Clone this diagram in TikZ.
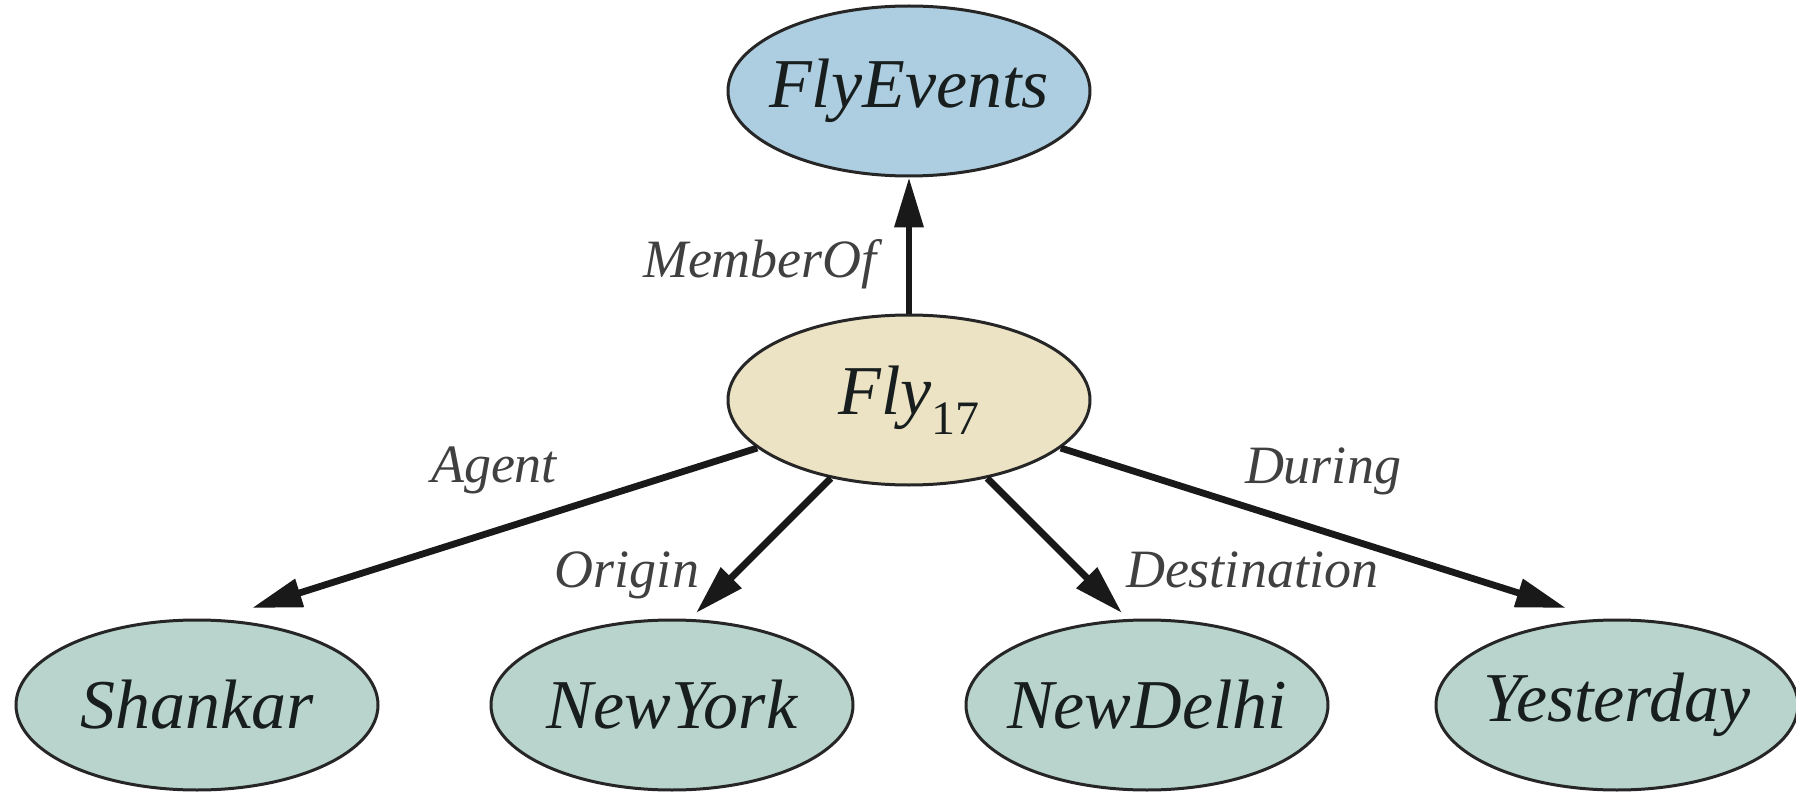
\documentclass[tikz,border=0pt]{standalone}
\usepackage{fontspec}
\setmainfont{Liberation Serif}
\usetikzlibrary{shapes.geometric,arrows.meta}
\definecolor{blueF}{RGB}{173,206,224}
\definecolor{beigeF}{RGB}{236,227,196}
\definecolor{greenF}{RGB}{184,212,204}
\definecolor{txt}{RGB}{24,30,30}
\tikzset{
  ent/.style={ellipse, draw=black!85, line width=1.5pt, minimum width=181pt,
    minimum height=85pt, inner sep=0pt, font=\fontsize{35}{40}\selectfont\itshape, text=txt},
  rel/.style={-{Triangle[length=25pt,width=14pt]}, line width=3.4pt, draw=black!90},
  lbl/.style={font=\fontsize{27}{30}\selectfont\itshape, text=black!75, inner sep=0pt, anchor=base},
}
\begin{document}
\begin{tikzpicture}[x=0.5pt,y=-0.5pt]
\useasboundingbox (0,0) rectangle (1796,792);
\node[ent, fill=blueF] (fe) at (909,91) {\makebox[0pt]{FlyEvents}};
\node[ent, fill=beigeF] (fly) at (909,400) {\makebox[0pt]{Fly\raisebox{-0.28em}{\upshape\fontsize{24}{24}\selectfont 17}}};
\node[ent, fill=greenF] (sh) at (197,705) {\makebox[0pt]{Shankar}};
\node[ent, fill=greenF] (ny) at (672,705) {\makebox[0pt]{NewYork}};
\node[ent, fill=greenF] (nd) at (1147,705) {\makebox[0pt]{NewDelhi}};
\node[ent, fill=greenF] (ye) at (1617,705) {\makebox[0pt]{Yesterday}};
\coordinate (tA) at (252,608);
\coordinate (tO) at (696,613);
\coordinate (tD) at (1122,613);
\coordinate (tR) at (1566,608);
\draw[rel] (fly) -- (fe);
\draw[rel] (fly) -- (tA);
\draw[rel] (fly) -- (tO);
\draw[rel] (fly) -- (tD);
\draw[rel] (fly) -- (tR);
\node[lbl] (lm) at (760,278) {MemberOf};
\node[lbl] (la) at (494,482) {Agent};
\node[lbl] (lo) at (627,587) {Origin};
\node[lbl] (ld) at (1252,587) {Destination};
\node[lbl] (lr) at (1323,483) {During};
\end{tikzpicture}
\end{document}
